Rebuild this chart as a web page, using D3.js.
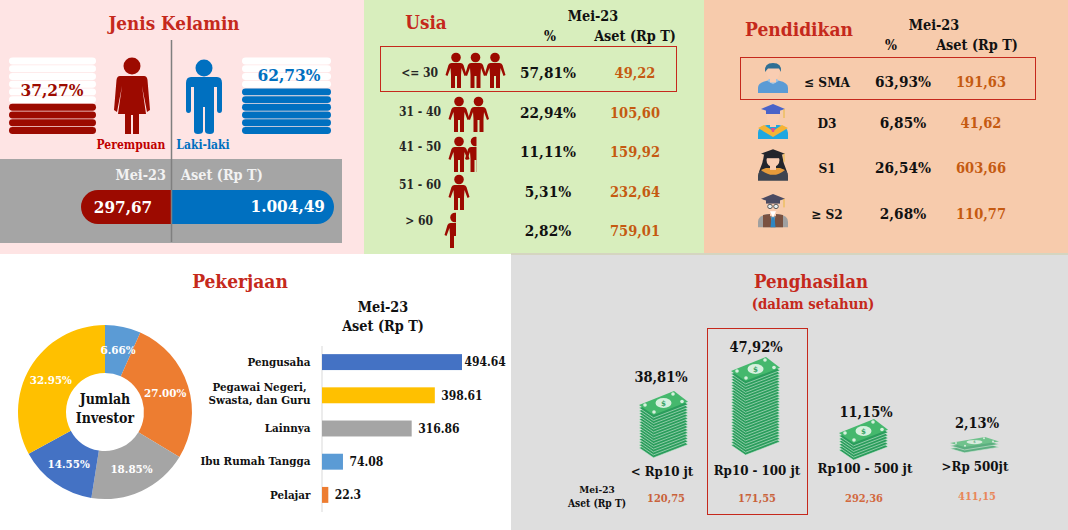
<!DOCTYPE html>
<html>
<head>
<meta charset="utf-8">
<script src="https://cdn.jsdelivr.net/npm/d3@7"></script>
<style>
  html, body { margin: 0; padding: 0; background: #fff; }
  svg { display: block; }
  text { font-family: "DejaVu Serif", serif; font-stretch: condensed; font-weight: bold; }
</style>
</head>
<body>
<svg id="chart" width="1068" height="530"></svg>
<script>
// Jenis kelamin
var genders = ['Perempuan', 'Laki-laki'];
var genderPct = [37.27, 62.73];
var genderPctLabels = ['37,27%', '62,73%'];
var genderAset = [297.67, 1004.49];
var genderAsetLabels = ['297,67', '1.004,49'];

// Usia
var ageGroups = ['<= 30', '31 - 40', '41 - 50', '51 - 60', '> 60'];
var agePctLabels = ['57,81%', '22,94%', '11,11%', '5,31%', '2,82%'];
var ageAsetLabels = ['49,22', '105,60', '159,92', '232,64', '759,01'];
var agePeople = [3, 2, 1.5, 1, 0.5];

// Pendidikan
var eduLevels = ['≤ SMA', 'D3', 'S1', '≥ S2'];
var eduPctLabels = ['63,93%', '6,85%', '26,54%', '2,68%'];
var eduAsetLabels = ['191,63', '41,62', '603,66', '110,77'];

// Pekerjaan
var pieShares = [6.66, 27.00, 18.85, 14.55, 32.95];
var jobs = ['Pengusaha', 'Pegawai Negeri,\nSwasta, dan Guru', 'Lainnya', 'Ibu Rumah Tangga', 'Pelajar'];
var jobAset = [494.64, 398.61, 316.86, 74.08, 22.3];
var jobAsetLabels = ['494.64', '398.61', '316.86', '74.08', '22.3'];

// Penghasilan
var incomes = ['< Rp10 jt', 'Rp10 - 100 jt', 'Rp100 - 500 jt', '>Rp 500jt'];
var incomePctLabels = ['38,81%', '47,92%', '11,15%', '2,13%'];
var incomeAsetLabels = ['120,75', '171,55', '292,36', '411,15'];
var incomeNotes = [15, 26, 6, 2];

var RED = '#c5291c';
var ORANGE = '#c55a11';
var DARK_RED = '#9c0a00';
var BLUE = '#0070c0';

var svg = d3.select('#chart');

var label = function label(parent, x, y, str, size, color, anchor) {
  return parent.append('text')
    .attr('x', x)
    .attr('y', y)
    .attr('dy', '0.35em')
    .attr('text-anchor', anchor || 'middle')
    .attr('font-size', size)
    .attr('fill', color || '#111')
    .text(str);
};

var box = function box(x, y, w, h, fill) {
  svg.append('rect').attr('x', x).attr('y', y).attr('width', w).attr('height', h).attr('fill', fill);
};

var outline = function outline(x, y, w, h) {
  svg.append('rect').attr('x', x + 0.5).attr('y', y + 0.5).attr('width', w).attr('height', h)
    .attr('fill', 'none').attr('stroke', '#c5281c').attr('stroke-width', 1);
};

/**
 * Panel backgrounds
 */
box(0, 0, 364, 254, '#fee4e4');
box(364, 0, 340, 254, '#d8eebd');
box(704, 0, 364, 254, '#f7cbac');
box(0, 254, 511, 276, '#ffffff');
box(511, 254, 557, 276, '#dedede');
box(511, 253, 557, 2, '#d5d5c0');

/**
 * Jenis kelamin
 */
var genderPanel = function genderPanel() {
  label(svg, 174, 23, 'Jenis Kelamin', 18.7, RED);

  var rowY = d3.scaleBand().domain(d3.range(10)).range([134, 57.5]).paddingInner(0.1);
  var stackX = [[9, 87], [242, 89]];
  var colors = [DARK_RED, BLUE];

  genders.forEach(function(g, i) {
    var filled = Math.round(genderPct[i] / 10);
    svg.append('g').selectAll('rect')
      .data(d3.range(10))
      .enter()
      .append('rect')
      .attr('x', stackX[i][0])
      .attr('y', function(d) { return rowY(d); })
      .attr('width', stackX[i][1])
      .attr('height', rowY.bandwidth())
      .attr('rx', 3.5)
      .attr('fill', function(d) { return d < filled ? colors[i] : '#ffffff'; });
  });

  label(svg, 52, 90, genderPctLabels[0], 17.2, DARK_RED);
  label(svg, 289, 75, genderPctLabels[1], 17.2, BLUE);

  // woman
  var w = svg.append('g').attr('transform', 'translate(132,0)').attr('fill', DARK_RED);
  w.append('circle').attr('cx', 0).attr('cy', 66).attr('r', 8.5);
  w.append('path').attr('d', 'M-12,76 L12,76 Q15,76 15.5,80 L18,110 L15,112 L10,86 L14,114 L7,114 L7,134 L1,134 L1,115 L-1,115 L-1,134 L-7,134 L-7,114 L-14,114 L-10,86 L-15,112 L-18,110 L-15.5,80 Q-15,76 -12,76Z');

  // man
  var m = svg.append('g').attr('transform', 'translate(204,0)').attr('fill', BLUE);
  m.append('circle').attr('cx', 0).attr('cy', 68).attr('r', 8.5);
  m.append('path').attr('d', 'M-13,77 L13,77 Q18,77 18,83 L18,110 Q18,113 15.5,113 Q13,113 13,110 L13,87 L10,87 L10,131 Q10,134 6,134 Q1,134 1,131 L1,107 L-1,107 L-1,131 Q-1,134 -6,134 Q-10,134 -10,131 L-10,87 L-13,87 L-13,110 Q-13,113 -15.5,113 Q-18,113 -18,110 L-18,83 Q-18,77 -13,77Z');

  label(svg, 131, 145, genders[0], 12, '#c00000');
  label(svg, 203, 145, genders[1], 12, BLUE);

  box(0, 159, 342, 84, '#a5a5a5');
  label(svg, 166, 175, 'Mei-23', 14.3, '#f2f2f2', 'end');
  label(svg, 181, 175, 'Aset (Rp T)', 14.3, '#f2f2f2', 'start');

  var barW = d3.scaleLinear().domain([genderAset[0], genderAset[1]]).range([90, 163]);
  var x0 = 171;
  var leftW = barW(genderAset[0]);
  var rightW = barW(genderAset[1]);
  svg.append('path').attr('fill', DARK_RED)
    .attr('d', 'M' + x0 + ',190 H' + (x0 - leftW + 17) + ' A17,17 0 0 0 ' + (x0 - leftW + 17) + ',224 H' + x0 + 'Z');
  svg.append('path').attr('fill', BLUE)
    .attr('d', 'M' + x0 + ',190 H' + (x0 + rightW - 17) + ' A17,17 0 0 1 ' + (x0 + rightW - 17) + ',224 H' + x0 + 'Z');

  label(svg, 123, 207, genderAsetLabels[0], 17, '#ffffff');
  label(svg, 325, 206, genderAsetLabels[1], 17, '#ffffff', 'end');

  svg.append('line').attr('x1', 171.5).attr('x2', 171.5).attr('y1', 40).attr('y2', 242)
    .attr('stroke', '#7f7f7f').attr('stroke-width', 1.5);
};

/**
 * Usia
 */
var agePanel = function agePanel() {
  label(svg, 426, 22, 'Usia', 18.7, RED);
  label(svg, 593, 16, 'Mei-23', 14.3);
  label(svg, 550, 36, '%', 14);
  label(svg, 635, 36, 'Aset (Rp T)', 14.3);
  outline(380, 46, 296, 45);

  var y = d3.scalePoint().domain(ageGroups).range([73, 231]);
  var labelY = [73, 112, 147, 185, 221];
  var labelX = [438, 441, 441, 441, 433];
  var iconTop = [53, 97, 137, 175, 213];
  var iconX = [456, 459, 459, 459, 455];

  svg.append('clipPath').attr('id', 'halfPerson')
    .append('rect').attr('x', -13).attr('y', -2).attr('width', 14).attr('height', 40);

  var personBody = 'M-4.5,10 L4.5,10 Q6.5,10 7.5,12 L10.5,22 L8.5,23 L5.5,15 L5,22 L5,35 L1,35 L1,23 L-1,23 L-1,35 L-5,35 L-5,22 L-5.5,15 L-8.5,23 L-10.5,22 L-7.5,12 Q-6.5,10 -4.5,10Z';

  ageGroups.forEach(function(g, i) {
    label(svg, labelX[i], labelY[i], g, 12, '#262626', 'end');
    label(svg, 548, y(g), agePctLabels[i], 15.2);
    label(svg, 635, y(g), ageAsetLabels[i], 14.5, ORANGE);

    var n = agePeople[i];
    d3.range(Math.ceil(n)).forEach(function(k) {
      var half = k + 1 > n;
      var px = iconX[i] + k * (half ? 16.5 : 19.5);
      var p = svg.append('g')
        .attr('transform', 'translate(' + px + ',' + iconTop[i] + ')')
        .append('g')
        .attr('fill', DARK_RED);
      if (half) p.attr('clip-path', 'url(#halfPerson)');
      p.append('circle').attr('cx', 0).attr('cy', 4.5).attr('r', 4.8);
      p.append('path').attr('d', personBody);
    });
  });
};

/**
 * Pendidikan
 */
var drawScholar = function drawScholar(i, cx, top, sy) {
  var g = svg.append('g').attr('transform', 'translate(' + cx + ',' + top + ') scale(1,' + sy + ')');
  var robes = ['#5b9bd5', '#1ea7e1', '#3d4450', '#a0a0a0'];
  var skin = '#f9cdb2';

  // hair behind face for the woman
  if (i === 2) {
    g.append('path').attr('fill', '#22252c').attr('d', 'M-9,4 Q0,-3 9,4 Q10,14 14,23 L7,26 L-7,26 L-14,23 Q-10,14 -9,4Z');
  }
  // shoulders
  g.append('path').attr('fill', robes[i])
    .attr('d', 'M-15,33 L-15,27 Q-15,21 -6,19 L6,19 Q15,21 15,27 L15,33Z');
  if (i === 0) {
    g.append('path').attr('fill', '#9cc3e4').attr('d', 'M-6,19 L0,23 L6,19 L4,17 L-4,17Z');
  }
  if (i === 1) {
    g.append('path').attr('fill', '#f5b335').attr('d', 'M-15,22 L0,31 L15,22 L9,19 L0,25 L-9,19Z');
    g.append('path').attr('fill', '#e84c88').attr('d', 'M-2,22 L2,22 L1,26 L-1,26Z');
  }
  if (i === 2) {
    g.append('path').attr('fill', '#e69b3a').attr('d', 'M-12,21 Q0,32 12,21 L7,19 L-7,19Z');
  }
  if (i === 3) {
    g.append('path').attr('fill', '#7a5140').attr('d', 'M-10,33 L-10,20 L-3,19 L0,33Z M10,33 L10,20 L3,19 L0,33Z');
    g.append('path').attr('fill', '#2e86c1').attr('d', 'M-1.5,22 L1.5,22 L2.5,33 L-2.5,33Z');
  }
  // face
  g.append('rect').attr('x', -3).attr('y', 14).attr('width', 6).attr('height', 7).attr('fill', skin);
  g.append('ellipse').attr('cx', 0).attr('cy', 10).attr('rx', 6.5).attr('ry', 8).attr('fill', skin);
  if (i === 0) {
    g.append('path').attr('fill', '#2f6f94').attr('d', 'M-8,9 Q-9,-1 0,-1 Q9,-1 8,9 L6,5 L-2,5 L-5,5Z');
  } else {
    // mortarboard
    var cap = ['', '#4a63c8', '#22252c', '#4a4a62'][i];
    g.append('path').attr('fill', cap).attr('d', 'M-12,3 L0,-2 L12,3 L0,7Z');
    g.append('path').attr('fill', cap).attr('d', 'M-7,4 L7,4 L7,8 L-7,8Z');
    g.append('path').attr('stroke', '#e8b93a').attr('fill', 'none').attr('d', 'M11,3 V12');
  }
  if (i === 3) {
    g.append('circle').attr('cx', -3).attr('cy', 11).attr('r', 2.3).attr('fill', '#e8eef2').attr('stroke', '#555');
    g.append('circle').attr('cx', 3).attr('cy', 11).attr('r', 2.3).attr('fill', '#e8eef2').attr('stroke', '#555');
    g.append('path').attr('fill', '#fff').attr('d', 'M-3,16 L3,16 L0,23Z');
  }
};

var eduPanel = function eduPanel() {
  label(svg, 799, 29, 'Pendidikan', 19, RED);
  label(svg, 934, 25, 'Mei-23', 14.3);
  label(svg, 891, 45, '%', 14);
  label(svg, 977, 45, 'Aset (Rp T)', 14.3);
  outline(740, 57, 295, 42);

  var y = d3.scaleOrdinal(eduLevels, [82, 123, 168, 214]);
  var iconTop = [64, 106, 151, 196];
  var iconScale = [0.88, 1.0, 0.9, 0.95];

  eduLevels.forEach(function(e, i) {
    label(svg, 827, y(e), e, 13.5);
    label(svg, 903, y(e), eduPctLabels[i], 15.2);
    label(svg, 981, y(e), eduAsetLabels[i], 14.5, ORANGE);
    drawScholar(i, 773, iconTop[i], iconScale[i]);
  });
};

/**
 * Pekerjaan
 */
var jobPanel = function jobPanel() {
  label(svg, 240, 281, 'Pekerjaan', 19, RED);
  label(svg, 383, 307, 'Mei-23', 14.3);
  label(svg, 383, 326, 'Aset (Rp T)', 14.3);

  var sliceColors = ['#5b9bd5', '#ed7d31', '#a5a5a5', '#4472c4', '#ffc000'];
  var pie = d3.pie().sort(null)(pieShares);
  var arc = d3.arc().innerRadius(39).outerRadius(87);
  var labelArc = d3.arc().innerRadius(63).outerRadius(63);

  var donut = svg.append('g').attr('transform', 'translate(105,412)');
  donut.selectAll('path')
    .data(pie)
    .enter()
    .append('path')
    .attr('d', arc)
    .attr('fill', function(d, i) { return sliceColors[i]; });
  donut.selectAll('text')
    .data(pie)
    .enter()
    .append('text')
    .attr('transform', function(d) { return 'translate(' + labelArc.centroid(d) + ')'; })
    .attr('dy', '0.35em')
    .attr('text-anchor', 'middle')
    .attr('font-size', 11.5)
    .attr('fill', '#ffffff')
    .text(function(d) { return d.data.toFixed(2) + '%'; });

  label(svg, 105, 399, 'Jumlah', 14);
  label(svg, 105, 418, 'Investor', 14);

  var barColors = ['#4472c4', '#ffc000', '#a5a5a5', '#5b9bd5', '#ed7d31'];
  var x = d3.scaleLinear().domain([0, 494.64]).range([0, 140]);
  var y = d3.scaleBand().domain(jobs).range([345.5, 511.5]).paddingInner(0.52).paddingOuter(0.26);

  var plot = svg.append('g').attr('transform', 'translate(321.5,0)');
  var axis = plot.append('g').call(d3.axisLeft(y).tickSize(0).tickPadding(11));
  axis.select('.domain').attr('stroke', '#d9d9d9').attr('stroke-width', 1);
  axis.selectAll('.tick text')
    .attr('font-size', 11.5)
    .attr('font-family', null)
    .attr('fill', '#111')
    .each(function(d) {
      var lines = d.split('\n');
      if (lines.length < 2) return;
      var t = d3.select(this).text(null).attr('dy', null);
      t.append('tspan').attr('x', -15).attr('dy', '-0.35em').text(lines[0]);
      t.append('tspan').attr('x', -11).attr('dy', '1.1em').text(lines[1]);
    });

  plot.selectAll('.job-bar')
    .data(jobs)
    .enter()
    .append('rect')
    .attr('class', 'job-bar')
    .attr('x', 0.5)
    .attr('y', function(d) { return y(d); })
    .attr('width', function(d, i) { return x(jobAset[i]); })
    .attr('height', y.bandwidth())
    .attr('fill', function(d, i) { return barColors[i]; });

  plot.selectAll('.job-value')
    .data(jobs)
    .enter()
    .append('text')
    .attr('class', 'job-value')
    .attr('x', function(d, i) { return x(jobAset[i]) + (i === 0 ? 3 : 7); })
    .attr('y', function(d) { return y(d) + y.bandwidth() / 2; })
    .attr('dy', '0.35em')
    .attr('font-size', 12)
    .attr('fill', '#111')
    .text(function(d, i) { return jobAsetLabels[i]; });
};

/**
 * Penghasilan: stacks of bank notes
 */
var drawNotes = function drawNotes(x, y, notes, flat) {
  var g = svg.append('g').attr('transform', 'translate(' + x + ',' + y + ')');
  if (flat) g.attr('opacity', 0.72);
  var sy = flat ? 0.42 : 1;
  var corners = [[0, 14 * sy], [35, 0], [49, 10.7 * sy], [14.5, 24 * sy]];
  var pitch = 2.85;
  var points = function(dy) {
    return corners.map(function(c) { return c[0] + ',' + (c[1] + dy); }).join(' ');
  };
  d3.range(notes).reverse().forEach(function(k) {
    g.append('polygon').attr('points', points((k + 1) * pitch)).attr('fill', '#2a9d5c')
      .attr('stroke', '#d3ebda').attr('stroke-width', 0.6);
  });
  g.append('polygon').attr('points', points(0)).attr('fill', '#45b86d');
  g.append('ellipse').attr('cx', 24.5).attr('cy', 12 * sy).attr('rx', 8).attr('ry', 5 * sy).attr('fill', '#d6f0de');
  g.append('text').attr('x', 24.5).attr('y', 12 * sy).attr('dy', '0.35em').attr('text-anchor', 'middle')
    .attr('font-size', flat ? 4 : 8).attr('fill', '#2f9f5e').text('$');
  [[6, 14], [34, 3], [43, 10.5], [15, 21]].forEach(function(c) {
    g.append('circle').attr('cx', c[0]).attr('cy', c[1] * sy).attr('r', flat ? 1 : 1.8).attr('fill', '#d6f0de');
  });
};

var incomePanel = function incomePanel() {
  label(svg, 811, 282, 'Penghasilan', 18.5, RED);
  label(svg, 813, 304, '(dalam setahun)', 14.8, RED);
  outline(707, 328, 100, 186);

  var cx = d3.scaleOrdinal(incomes, [662, 757, 865, 975]);
  var pctX = [661, 756, 866, 977];
  var pctY = [377, 347, 412, 423];
  var nameY = [471, 470, 468, 466];
  var asetX = [666, 757, 864, 977];
  var asetY = [498, 498, 498, 496];
  var asetColors = ['#c9623a', '#c9623a', '#d2693e', '#e8875a'];
  var noteX = [639, 731, 839, 950];
  var noteY = [391, 357, 419, 437];

  incomes.forEach(function(d, i) {
    drawNotes(noteX[i], noteY[i], incomeNotes[i], i === 3);
    label(svg, pctX[i], pctY[i], incomePctLabels[i], 14.5);
    label(svg, cx(d), nameY[i], d, 13.2);
    label(svg, asetX[i], asetY[i], incomeAsetLabels[i], 11, asetColors[i]);
  });

  label(svg, 597, 489, 'Mei-23', 10);
  label(svg, 597, 503, 'Aset (Rp T)', 10.2);
};

genderPanel();
agePanel();
eduPanel();
jobPanel();
incomePanel();
</script>
</body>
</html>
